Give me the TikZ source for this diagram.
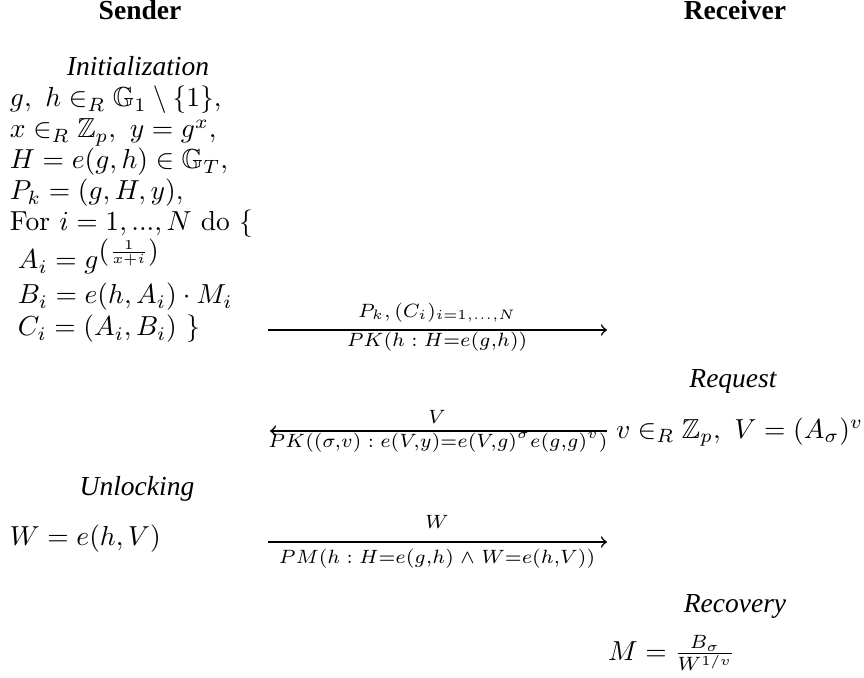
\documentclass[tikz,border=0pt]{standalone}
\usepackage{amssymb}
\usepackage{fontspec}
\newfontfamily\hdfont{Liberation Serif}
\begin{document}
\begin{tikzpicture}[x=0.3636pt,y=-0.3636pt,
  every node/.style={inner sep=0pt, outer sep=0pt},
  head/.style={font=\hdfont\bfseries, anchor=base},
  phase/.style={font=\hdfont\itshape, anchor=base},
  ln/.style={anchor=base west},
  lab/.style={anchor=base},
  msg/.style={->, line width=0.6pt}]
\useasboundingbox (0,0) rectangle (864,678);
% headers
\node[head] (snd) at (140,20) {Sender};
\node[head] (rcv) at (735,20) {Receiver};
% sender initialization
\node[phase] (init) at (138,76) {Initialization};
\node[ln] (l1) at (10,107) {$g,\ h \in_R \mathbb{G}_1 \setminus \{1\},$};
\node[ln] (l2) at (10,138) {$x \in_R \mathbb{Z}_p,\ y = g^x,$};
\node[ln] (l3) at (10,169) {$H = e(g,h) \in \mathbb{G}_T,$};
\node[ln] (l4) at (10,200) {$P_k = (g,H,y),$};
\node[ln] (l5) at (10,231) {For $i = 1,...,N$ do \{};
\node[ln] (l6) at (18,269) {$A_i = g^{\left(\frac{1}{x+i}\right)}$};
\node[ln] (l7) at (18,304) {$B_i = e(h,A_i)\cdot M_i$};
\node[ln] (l8) at (18,336) {$C_i = (A_i,B_i)$ \}};
% message 1
\coordinate (m1s) at (268,330);
\coordinate (m1e) at (607,330);
\draw[msg] (m1s) -- (m1e);
\node[lab] (m1t) at (437,317) {$\scriptstyle P_k,\,(C_i)_{i=1,...,N}$};
\node[lab] (m1b) at (437,347) {$\scriptstyle PK(h\;:\;H=e(g,h))$};
% receiver request
\node[phase] (req) at (733,387) {Request};
\node[ln] (rq) at (616,438) {$v \in_R \mathbb{Z}_p,\ V = (A_\sigma)^v$};
% message 2
\coordinate (m2s) at (607,431);
\coordinate (m2e) at (270,431);
\draw[msg] (m2s) -- (m2e);
\node[lab] (m2t) at (437,423) {$\scriptstyle V$};
\node[lab] (m2b) at (438,447) {$\scriptstyle PK((\sigma,v)\;:\;e(V,y)=e(V,g)^\sigma e(g,g)^v)$};
% sender unlocking
\node[phase] (unl) at (137,495) {Unlocking};
\node[ln] (w) at (10,545) {$W = e(h,V)$};
% message 3
\coordinate (m3s) at (268,542);
\coordinate (m3e) at (607,542);
\draw[msg] (m3s) -- (m3e);
\node[lab] (m3t) at (437,528) {$\scriptstyle W$};
\node[lab] (m3b) at (437,563) {$\scriptstyle PM(h\;:\;H=e(g,h)\;\wedge\;W=e(h,V))$};
% receiver recovery
\node[phase] (rec) at (735,612) {Recovery};
\node[ln] (m) at (608,660) {$M = \frac{B_\sigma}{W^{1/v}}$};
\end{tikzpicture}
\end{document}
